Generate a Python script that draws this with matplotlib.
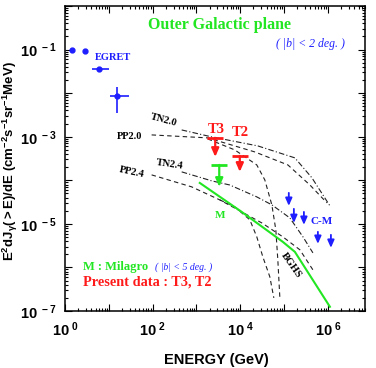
import numpy as np
import matplotlib.pyplot as plt
from matplotlib.ticker import LogLocator, FuncFormatter, NullFormatter

plt.rcParams['mathtext.fontset'] = 'custom'
plt.rcParams['mathtext.rm'] = 'Liberation Sans:bold'
plt.rcParams['mathtext.bf'] = 'Liberation Sans:bold'
plt.rcParams['mathtext.it'] = 'Liberation Sans:bold'
plt.rcParams['mathtext.default'] = 'bf'

BLUE = '#1e1eff'
GREEN = '#22e622'
RED = '#ff1a1a'
SERIF = 'Liberation Serif'

# EGRET points (GeV, flux) with x / y extents
egret_E = [1.41, 2.79, 5.83, 15.6]
egret_F = [0.098, 0.093, 0.036, 8.6e-3]
egret_Elo = [1.41, 2.79, 4.03, 10.4]
egret_Ehi = [1.41, 2.79, 9.87, 28.7]
egret_Flo = [0.098, 0.093, 0.036, 3.46e-3]
egret_Fhi = [0.098, 0.093, 0.036, 1.37e-2]

# model curves
pp20_E = [94.8, 1807, 21400, 1.22e5, 3.88e5, 9.5e5]
pp20_F = [1.10e-3, 9.4e-4, 4.48e-4, 2.25e-4, 7.8e-5, 3.03e-5]

tn20_E = [460, 2230, 25100, 1.76e5, 4.31e5, 1.11e6]
tn20_F = [1.43e-3, 9.9e-4, 6.15e-4, 3.27e-4, 1.14e-4, 2.59e-5]

pp20cut_E = [1807, 7480, 23800, 36300, 52500, 64700, 71900, 80000]
pp20cut_F = [8.9e-4, 4.98e-4, 2.25e-4, 1.02e-4, 2.73e-5, 7.3e-6, 1.49e-6, 2.0e-7]

pp24_E = [94.8, 778, 3400, 10800, 31000, 93500, 2.29e5, 4.54e5]
pp24_F = [1.33e-4, 7.06e-5, 3.55e-5, 1.88e-5, 1.05e-5, 5.04e-6, 2.54e-6, 8.8e-7]

pp24cut_E = [3400, 7480, 16500, 23800, 32700, 47200, 58300]
pp24cut_F = [3.55e-5, 2.45e-5, 1.24e-5, 5.04e-6, 1.75e-6, 6.1e-7, 2.0e-7]

tn24_E = [460, 2230, 5750, 23800, 52500, 1.35e5, 2.69e5, 4.54e5]
tn24_F = [1.56e-4, 9.7e-5, 7.8e-5, 4.16e-5, 2.73e-5, 1.37e-5, 5.04e-6, 2.16e-6]

# Milagro line
mil_E = [1190, 10800, 93500, 1.76e5, 1.11e6]
mil_F = [8.7e-5, 1.88e-5, 3.86e-6, 2.28e-6, 1.25e-7]

# upper limits: energy, limit value, arrow tip
ul_names = ['T3', 'T2', 'M']
ul_E = [2680, 9750, 3310]
ul_F = [9.4e-4, 3.63e-4, 2.25e-4]
ul_tip = [3.44e-4, 1.56e-4, 7.06e-5]
ul_col = [RED, RED, GREEN]

# CASA-MIA upper limits
cm_E = [1.28e5, 1.67e5, 2.83e5, 5.9e5, 1.17e6]
cm_F = [5.14e-5, 2.21e-5, 1.88e-5, 6.56e-6, 5.6e-6]
cm_tip = [2.59e-5, 1.05e-5, 9.5e-6, 3.48e-6, 2.82e-6]

W, H = 376, 368
fig = plt.figure(figsize=(W / 100, H / 100), dpi=100)
ax = fig.add_axes([65 / W, 1 - 311 / H, 300 / W, 305 / H])
ax.set_xscale('log')
ax.set_yscale('log')
ax.set_xlim(1, 10 ** 6.846)
ax.set_ylim(1e-7, 1)

# curves
dash = (0, (4, 3))
dashdot = (0, (5, 2, 1, 2))
ax.plot(pp20_E, pp20_F, color='#222222', lw=0.8, ls=dash)
ax.plot(tn20_E, tn20_F, color='#222222', lw=0.8, ls=dashdot)
ax.plot(pp20cut_E, pp20cut_F, color='#222222', lw=0.8, ls=dash)
ax.plot(pp24_E, pp24_F, color='#222222', lw=0.8, ls=dash)
ax.plot(pp24cut_E, pp24cut_F, color='#222222', lw=0.8, ls=dash)
ax.plot(tn24_E, tn24_F, color='#222222', lw=0.8, ls=dashdot)
ax.plot(mil_E, mil_F, color=GREEN, lw=1.5)

# EGRET
E = np.array(egret_E)
F = np.array(egret_F)
ax.errorbar(E, F,
            xerr=[E - np.array(egret_Elo), np.array(egret_Ehi) - E],
            yerr=[F - np.array(egret_Flo), np.array(egret_Fhi) - F],
            fmt='o', ms=3.5, color=BLUE, ecolor=BLUE, elinewidth=1.2, capsize=0)

# upper limits with bars
for e, f, t, c in zip(ul_E, ul_F, ul_tip, ul_col):
    ax.plot([e], [f], marker='_', ms=11, mew=2, color=c)
    ax.annotate('', xy=(e, t), xytext=(e, f),
                arrowprops=dict(arrowstyle='-|>,head_length=0.5,head_width=0.22',
                                color=c, lw=1.6, shrinkA=0, shrinkB=0))
for e, f, t in zip(cm_E, cm_F, cm_tip):
    ax.annotate('', xy=(e, t), xytext=(e, f),
                arrowprops=dict(arrowstyle='-|>,head_length=0.45,head_width=0.2',
                                color=BLUE, lw=1.3, shrinkA=0, shrinkB=0))

# axes styling
for s in ax.spines.values():
    s.set_linewidth(1.1)
for axis in (ax.xaxis, ax.yaxis):
    axis.set_major_locator(LogLocator(base=10, numticks=20))
    axis.set_minor_locator(LogLocator(base=10, subs=np.arange(2, 10), numticks=20))
    axis.set_minor_formatter(NullFormatter())
ax.xaxis.set_major_formatter(FuncFormatter(
    lambda v, p: r'$10^{\ %d}$' % round(np.log10(v)) if round(np.log10(v)) % 2 == 0 else ''))
ax.yaxis.set_major_formatter(FuncFormatter(
    lambda v, p: r'$10^{\ %d}$' % round(np.log10(v)) if round(np.log10(v)) % 2 != 0 else ''))
ax.tick_params(which='both', direction='in', top=True, right=True, width=0.8)
ax.tick_params(which='major', length=5, labelsize=10.5)
ax.tick_params(which='minor', length=2.5)
ax.tick_params(axis='x', pad=7)
ax.tick_params(axis='y', pad=6)


def fx(px):
    return px / W


def fy(py):
    return 1 - py / H


# labels
fig.text(fx(10), fy(161), r'$E^{2}dJ_{\gamma}(>E)/dE\ (cm^{-2}s^{-1}sr^{-1}MeV)$',
         rotation=90, ha='center', va='center', fontsize=9.5)
fig.text(fx(216), fy(360), 'ENERGY (GeV)', ha='center', va='center',
         fontsize=10.5, fontweight='bold', family='Liberation Sans')

fig.text(fx(219), fy(25), 'Outer Galactic plane', ha='center', va='center',
         fontsize=11.5, fontweight='bold', family=SERIF, color=GREEN)
fig.text(fx(310), fy(44), '( |b| < 2 deg. )', ha='center', va='center',
         fontsize=8.5, style='italic', family=SERIF, color=BLUE)
fig.text(fx(95), fy(58), 'EGRET', ha='left', va='center',
         fontsize=7.5, fontweight='bold', family=SERIF, color=BLUE)

fig.text(fx(164), fy(120), 'TN2.0', ha='center', va='center', rotation=-15,
         fontsize=7.5, fontweight='bold', family=SERIF)
fig.text(fx(130), fy(137), 'PP2.0', ha='center', va='center',
         fontsize=7.5, fontweight='bold', family=SERIF)
fig.text(fx(170), fy(164), 'TN2.4', ha='center', va='center', rotation=-8,
         fontsize=7.5, fontweight='bold', family=SERIF)
fig.text(fx(132), fy(172), 'PP2.4', ha='center', va='center', rotation=-12,
         fontsize=7.5, fontweight='bold', family=SERIF)
fig.text(fx(291), fy(265), 'BGHS', ha='center', va='center', rotation=-55,
         fontsize=7.5, fontweight='bold', family=SERIF)

fig.text(fx(216), fy(129), 'T3', ha='center', va='center',
         fontsize=10.5, fontweight='bold', family=SERIF, color=RED)
fig.text(fx(240), fy(132), 'T2', ha='center', va='center',
         fontsize=10.5, fontweight='bold', family=SERIF, color=RED)
fig.text(fx(220), fy(215), 'M', ha='center', va='center',
         fontsize=8, fontweight='bold', family=SERIF, color=GREEN)
fig.text(fx(322), fy(222), 'C-M', ha='center', va='center',
         fontsize=8, fontweight='bold', family=SERIF, color=BLUE)

fig.text(fx(83), fy(267), 'M : Milagro', ha='left', va='center',
         fontsize=9, fontweight='bold', family=SERIF, color=GREEN)
fig.text(fx(155), fy(267), '( |b| < 5 deg. )', ha='left', va='center',
         fontsize=7, style='italic', family=SERIF, color=BLUE)
fig.text(fx(83), fy(282), 'Present data : T3, T2', ha='left', va='center',
         fontsize=10.3, fontweight='bold', family=SERIF, color=RED)

fig.savefig('out.png', dpi=100)
